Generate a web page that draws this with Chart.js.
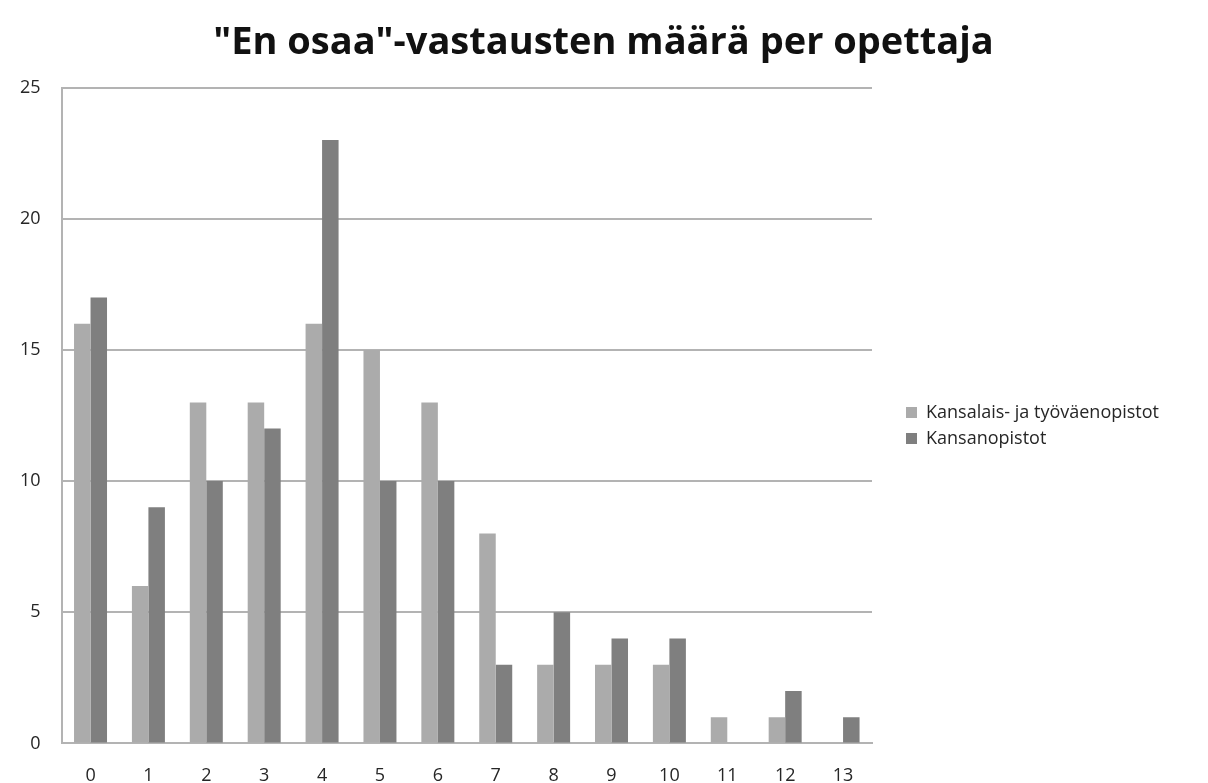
<!DOCTYPE html>
<html>
<head>
<meta charset="utf-8">
<script src="https://cdn.jsdelivr.net/npm/chart.js@4/dist/chart.umd.min.js"></script>
<style>
  html, body { margin: 0; padding: 0; background: #fff; }
</style>
</head>
<body>
<canvas id="osaaChart" width="1208" height="783"></canvas>
<script>
// data
const categories = ['0', '1', '2', '3', '4', '5', '6', '7', '8', '9', '10', '11', '12', '13'];
const seriesNames = ['Kansalais- ja työväenopistot', 'Kansanopistot'];
const kansalaisData = [16, 6, 13, 13, 16, 15, 13, 8, 3, 3, 3, 1, 1, 0];
const kansanData = [17, 9, 10, 12, 23, 10, 10, 3, 5, 4, 4, 0, 2, 1];
const yTicks = [0, 5, 10, 15, 20, 25];

const FONT = '"Open Sans", Lato, sans-serif';

// legend sits to the right, with a fixed width like the original
const legendPlacer = {
    id: 'legendPlacer',
    beforeLayout(chart) {
        const lg = chart.legend;
        if (lg && !lg._patched) {
            const origFit = lg.fit.bind(lg);
            lg.fit = function () {
                origFit();
                this.width = 336;
            };
            lg._patched = true;
        }
    },
    afterLayout(chart) {
        const lg = chart.legend;
        if (lg) {
            lg.left += 26;
            lg.top += 25;
            lg.bottom += 25;
        }
    }
};

const ctx = document.getElementById('osaaChart').getContext('2d');

new Chart(ctx, {
    type: 'bar',
    data: {
        labels: categories,
        datasets: [{
            label: seriesNames[0],
            data: kansalaisData,
            backgroundColor: '#ababab',
            borderWidth: 0,
            categoryPercentage: 0.57,
            barPercentage: 1
        }, {
            label: seriesNames[1],
            data: kansanData,
            backgroundColor: '#7f7f7f',
            borderWidth: 0,
            categoryPercentage: 0.57,
            barPercentage: 1
        }]
    },
    options: {
        responsive: false,
        animation: false,
        layout: {
            // pulls the plot box to where the original has it
            padding: { left: -1, right: 0, top: 0, bottom: -18 }
        },
        plugins: {
            title: {
                display: true,
                text: '"En osaa"-vastausten määrä per opettaja',
                color: '#111',
                font: { family: FONT, size: 38, weight: 'bold', lineHeight: 1.2 },
                padding: { top: 20, bottom: 22 }
            },
            legend: {
                display: true,
                position: 'right',
                labels: {
                    color: '#262626',
                    font: { family: FONT, size: 18 },
                    boxWidth: 11,
                    boxHeight: 11,
                    padding: 8
                }
            },
            tooltip: { enabled: false }
        },
        scales: {
            x: {
                grid: { display: false },
                border: { display: true, color: '#b3b3b3', width: 2 },
                ticks: {
                    color: '#262626',
                    font: { family: FONT, size: 18 },
                    padding: 14,
                    maxRotation: 0
                }
            },
            y: {
                min: yTicks[0],
                max: yTicks[yTicks.length - 1],
                afterBuildTicks: (axis) => {
                    axis.ticks = yTicks.map(v => ({ value: v }));
                },
                grid: { color: '#b3b3b3', lineWidth: 2, drawTicks: false },
                border: { display: true, color: '#b3b3b3', width: 2 },
                ticks: {
                    color: '#262626',
                    font: { family: FONT, size: 18 },
                    padding: 21
                }
            }
        }
    },
    plugins: [legendPlacer]
});
</script>
</body>
</html>
